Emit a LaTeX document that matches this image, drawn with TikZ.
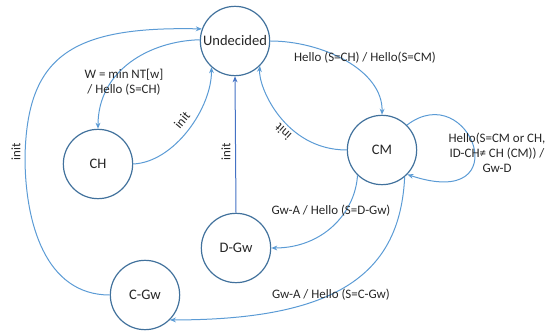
\documentclass[tikz,border=0pt]{standalone}
\usepackage{fontspec}
\setmainfont{Carlito}
\usetikzlibrary{arrows.meta}
\definecolor{edgeblue}{RGB}{91,155,213}
\definecolor{lineblue}{RGB}{68,114,196}
\definecolor{ringblue}{RGB}{65,113,156}
\definecolor{labeltext}{RGB}{38,38,38}

\begin{document}
\begin{tikzpicture}[x=0.75pt, y=0.75pt,
	state/.style={circle, draw=ringblue, line width=0.9pt, minimum size=52pt, inner sep=0pt,
		font=\fontsize{10.9}{12}\selectfont, text=labeltext},
	trans/.style={draw=edgeblue, line width=0.75pt, -{Stealth[length=4.5pt, width=3.6pt]}},
	lbl/.style={font=\fontsize{9.7}{11.4}\selectfont, text=labeltext, inner sep=0pt, align=center}]
	\useasboundingbox (0,0) rectangle (546,332);
	% states
	\foreach \name/\pos/\statetext in {und/{235,291}/Undecided, ch/{98,168}/CH, cm/{382,182}/CM,
		dgw/{236,84}/D-Gw, cgw/{145,37}/C-Gw}
	\node[state] (\name) at (\pos) {\statetext};
	
	% transitions
	\draw[trans] (cgw.west) .. controls (45,37) and (25,110) .. (25,175) .. controls (27,275) and (70,306) .. (und.160);
	\draw[trans] (und.178) .. controls (150,291) and (98,262) .. (ch.north);
	\draw[trans] (ch.east) .. controls (175,170) and (212,225) .. (und.228);
	\draw[trans, draw=lineblue] (dgw.north) -- (und.south);
	\draw[trans] (und.east) .. controls (322,291) and (383,262) .. (cm.north);
	\draw[trans] (cm.west) .. controls (285,182) and (258,245) .. (und.-45);
	\draw[trans] (cm.45) .. controls (470,255) and (520,120) .. (cm.-44);
	\draw[trans] (cm.226) .. controls (355,118) and (322,84) .. (dgw.east);
	\draw[trans] (cm.-50) .. controls (400,60) and (340,12) .. (cgw.-45);
	
	% labels
	\node[lbl] (lmin) at (124,250) {W = min NT[w]\\/ Hello (S=CH)};
	\node[lbl, rotate=90] (linitc) at (16,180) {init};
	\node[lbl, rotate=50] (linith) at (182,212) {init};
	\node[lbl, rotate=90] (linitd) at (226,180) {init};
	\node[lbl, rotate=138] (linitm) at (283,200) {init};
	\node[lbl] (lhello) at (365,274) {Hello (S=CH) / Hello(S=CM)};
	\node[lbl] (lloop) at (497,179) {Hello(S=CM or CH,\\ID-CH≠ CH (CM)) /\\Gw-D};
	\node[lbl] (ldgw) at (331,121) {Gw-A / Hello (S=D-Gw)};
	\node[lbl] (lcgw) at (331,37) {Gw-A / Hello (S=C-Gw)};
\end{tikzpicture}
\end{document}
